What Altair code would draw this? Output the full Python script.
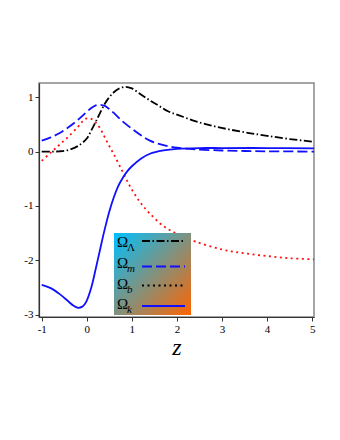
import altair as alt
import pandas as pd

# ---- data ----
z_lambda = [-1, -0.8, -0.6, -0.4, -0.2, 0, 0.1, 0.2, 0.3, 0.4, 0.5, 0.6, 0.7, 0.85, 1.0, 1.2, 1.4, 1.6, 1.8, 2.0, 2.4, 2.8, 3.2, 3.6, 4.0, 4.5, 5.04]
omega_lambda = [0, 0, 0.005, 0.03, 0.1, 0.24, 0.39, 0.55, 0.72, 0.88, 1.0, 1.09, 1.15, 1.19, 1.16, 1.05, 0.94, 0.84, 0.74, 0.68, 0.56, 0.47, 0.40, 0.34, 0.29, 0.23, 0.18]

z_m = [-1, -0.8, -0.6, -0.4, -0.2, 0, 0.1, 0.2, 0.3, 0.4, 0.5, 0.6, 0.8, 1.0, 1.2, 1.4, 1.6, 1.8, 2.0, 2.4, 3.0, 3.5, 4.0, 5.04]
omega_m = [0.20, 0.26, 0.34, 0.45, 0.58, 0.73, 0.80, 0.85, 0.86, 0.84, 0.78, 0.71, 0.55, 0.42, 0.30, 0.20, 0.14, 0.10, 0.07, 0.04, 0.02, 0.01, 0.005, 0.0]

z_b = [-1, -0.8, -0.6, -0.4, -0.2, -0.1, 0, 0.1, 0.2, 0.3, 0.4, 0.5, 0.6, 0.8, 1.0, 1.2, 1.4, 1.7, 2.0, 2.4, 3.0, 3.5, 4.0, 4.5, 5.04]
omega_b = [-0.17, -0.02, 0.13, 0.28, 0.45, 0.55, 0.61, 0.60, 0.53, 0.42, 0.26, 0.10, -0.05, -0.38, -0.70, -0.95, -1.14, -1.37, -1.51, -1.65, -1.80, -1.87, -1.92, -1.96, -1.98]

z_k = [-1, -0.8, -0.6, -0.4, -0.3, -0.2, -0.1, -0.05, 0, 0.1, 0.2, 0.3, 0.4, 0.5, 0.6, 0.7, 0.8, 0.9, 1.0, 1.2, 1.4, 1.7, 2.0, 2.5, 3.0, 4.0, 5.04]
omega_k = [-2.45, -2.51, -2.62, -2.76, -2.83, -2.87, -2.85, -2.81, -2.74, -2.50, -2.15, -1.78, -1.42, -1.10, -0.84, -0.63, -0.48, -0.36, -0.27, -0.13, -0.04, 0.02, 0.05, 0.065, 0.065, 0.065, 0.06]

x_ticks = [-1, 0, 1, 2, 3, 4, 5]
y_ticks = [-3, -2, -1, 0, 1]

legend_main = ["Ω", "Ω", "Ω", "Ω"]
legend_sub = ["Λ", "m", "b", "k"]

FONT = "Liberation Serif, Times New Roman, serif"

xscale = alt.Scale(domain=[-1.06, 5.04], nice=False, zero=False)
yscale = alt.Scale(domain=[-3.04, 1.26], nice=False, zero=False)

xaxis = alt.Axis(values=x_ticks, grid=False, title="z", labelExpr="'' + datum.value",
                 titleFont=FONT, titleFontSize=24, titleFontStyle="italic",
                 titleFontWeight="normal", titlePadding=1)
yaxis = alt.Axis(values=y_ticks, grid=False, title=None, labelExpr="'' + datum.value")


def line(z, v, color, dash):
    df = pd.DataFrame({"z": z, "v": v})
    props = dict(color=color, strokeWidth=1.8, interpolate="catmull-rom", clip=True)
    if dash:
        props["strokeDash"] = dash
    return alt.Chart(df).mark_line(**props).encode(
        x=alt.X("z:Q", scale=xscale, axis=xaxis),
        y=alt.Y("v:Q", scale=yscale, axis=yaxis),
    )


l_lambda = line(z_lambda, omega_lambda, "black", [8, 2.5, 1.5, 2.5])
l_m = line(z_m, omega_m, "#1010ff", [10, 4])
l_b = line(z_b, omega_b, "#ff1010", [2, 3.5])
l_k = line(z_k, omega_k, "#1010ff", None)

one = pd.DataFrame({"a": [0]})

grad = alt.LinearGradient(
    gradient="linear",
    stops=[alt.GradientStop(color="#00c0ff", offset=0),
           alt.GradientStop(color="#ff6400", offset=1)],
    x1=0, y1=0, x2=1, y2=1,
)
box = alt.Chart(one).mark_rect(fill=grad, opacity=1).encode(
    x=alt.value(75), x2=alt.value(152), y=alt.value(150), y2=alt.value(232)
)

rows_y = [158.5, 180, 200.5, 221]
line_y = [158, 183.5, 202.5, 223]
styles = [("black", [8, 2.5, 1.5, 2.5]), ("#1010ff", [10, 4]), ("black", [2, 3.5]), ("#1010ff", None)]

legend_layers = []
for i in range(4):
    legend_layers.append(
        alt.Chart(one).mark_text(text=legend_main[i], font=FONT, fontSize=15, color="black",
                                 align="left", baseline="middle").encode(
            x=alt.value(78), y=alt.value(rows_y[i]))
    )
    legend_layers.append(
        alt.Chart(one).mark_text(text=legend_sub[i], font=FONT, fontSize=11, color="black",
                                 fontStyle="italic" if i > 0 else "normal",
                                 align="left", baseline="middle").encode(
            x=alt.value(88), y=alt.value(rows_y[i] + 6))
    )
    col, dash = styles[i]
    rp = dict(color=col, strokeWidth=1.8)
    if dash:
        rp["strokeDash"] = dash
    legend_layers.append(
        alt.Chart(one).mark_rule(**rp).encode(
            x=alt.value(103), x2=alt.value(146), y=alt.value(line_y[i]))
    )

chart = alt.layer(l_lambda, l_m, l_b, l_k, box, *legend_layers).properties(
    width=275, height=234,
    autosize=alt.AutoSizeParams(type="none"),
    padding={"left": 31, "top": 75, "right": 17, "bottom": 100},
).configure_view(stroke="#888888", strokeWidth=1.5).configure_axis(
    labelFont=FONT, labelFontSize=11, labelColor="black", tickColor="#333",
    domainColor="#333", tickSize=4, labelPadding=2, domainWidth=1.2
)

chart.save("out.html", embed_options={"renderer": "svg", "actions": False})
